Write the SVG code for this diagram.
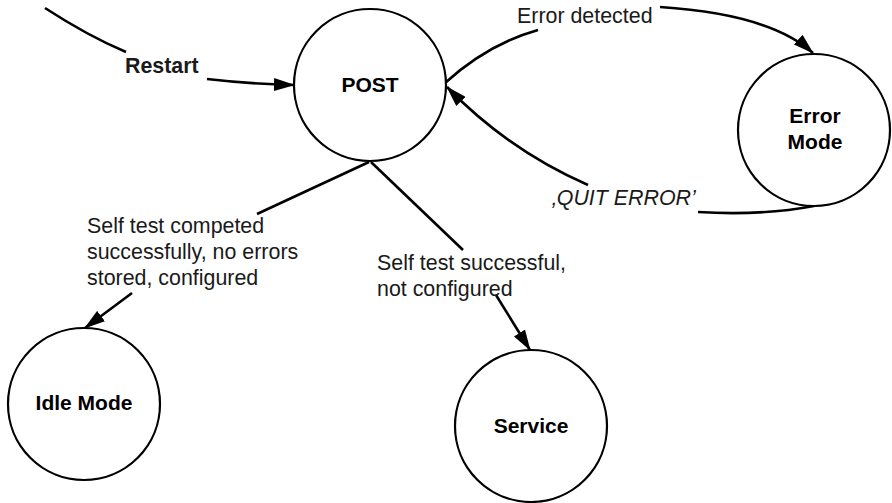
<svg xmlns="http://www.w3.org/2000/svg" width="892" height="503" viewBox="0 0 892 503">
  <style>
    .state { fill: #ffffff; stroke: #000000; stroke-width: 2.2; }
    .name { font-family: "Liberation Sans", Arial, sans-serif; font-size: 21px; font-weight: bold; fill: #000000; text-anchor: middle; }
    .label { font-family: "Liberation Sans", Arial, sans-serif; font-size: 21.4px; fill: #1a1a1a; }
    .label.em { font-style: italic; }
    .edge { fill: none; stroke: #000000; stroke-width: 2.6; }
    .edge.end { marker-end: url(#arrow); }
  </style>
  <defs>
    <marker id="arrow" markerUnits="userSpaceOnUse" viewBox="0 0 21 13" refX="20" refY="6.5" markerWidth="21" markerHeight="13" orient="auto">
      <path d="M0,0 L21,6.5 L0,13 Z" fill="#000000"/>
    </marker>
  </defs>
  <rect width="892" height="503" fill="#ffffff"/>

  <!-- transitions -->
  <g id="connectors">
    <!-- Restart -> POST -->
    <path class="edge" d="M45,8 Q88,36 126,52"/>
    <path class="edge end" d="M207,79 Q250,84 294,85"/>
    <!-- POST -> Error Mode -->
    <path class="edge" d="M445,83 Q488,44 538,30"/>
    <path class="edge end" d="M660,7 Q770,14 813,53"/>
    <!-- Error Mode -> POST -->
    <path class="edge" d="M814,206 Q760,216 698,212"/>
    <path class="edge end" d="M588,185 Q508,150 447,87"/>
    <!-- POST -> Idle Mode -->
    <path class="edge" d="M369,162 L257,214"/>
    <path class="edge end" d="M132,293 L85,328"/>
    <!-- POST -> Service -->
    <path class="edge" d="M371,162 L463,250"/>
    <path class="edge end" d="M496,295 L530,350"/>
  </g>

  <!-- transition labels -->
  <g id="labels">
    <text class="label" x="125" y="73" font-weight="bold" font-size="21px">Restart</text>
    <text class="label" x="517" y="23">Error detected</text>
    <text class="label em" x="552" y="205">‚QUIT ERROR’</text>
    <text class="label" x="87" y="233">Self test competed</text>
    <text class="label" x="87" y="259">successfully, no errors</text>
    <text class="label" x="87" y="285">stored, configured</text>
    <text class="label" x="377" y="270">Self test successful,</text>
    <text class="label" x="377" y="296">not configured</text>
  </g>

  <g id="post">
    <circle class="state" cx="370" cy="85" r="76"/>
    <text class="name" x="370" y="92">POST</text>
  </g>
  <g id="error-mode">
    <circle class="state" cx="814" cy="130" r="76"/>
    <text class="name" x="815" y="123">Error</text>
    <text class="name" x="815" y="149">Mode</text>
  </g>
  <g id="idle-mode">
    <circle class="state" cx="84" cy="404" r="76"/>
    <text class="name" x="84" y="410">Idle Mode</text>
  </g>
  <g id="service">
    <circle class="state" cx="531" cy="426" r="76"/>
    <text class="name" x="531" y="433">Service</text>
  </g>
</svg>
